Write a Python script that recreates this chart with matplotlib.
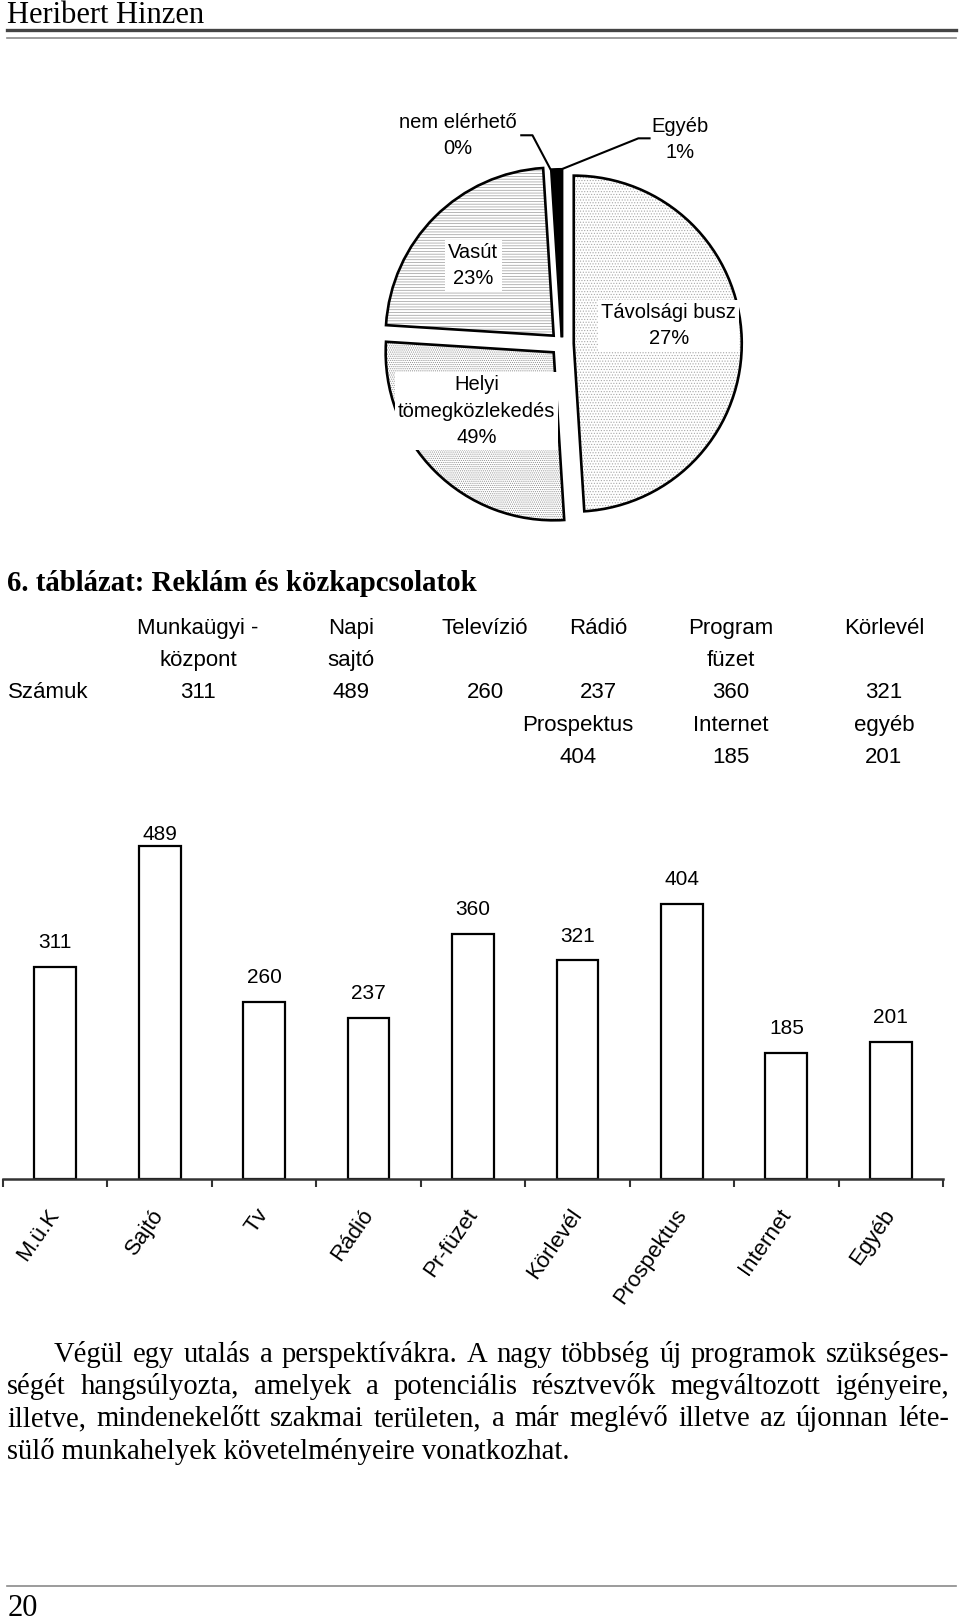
import matplotlib
matplotlib.use("Agg")
import matplotlib.pyplot as plt
import numpy as np

# ---------------- data ----------------
pie_labels = ["Helyi tömegközlekedés", "Távolsági busz", "Vasút", "Egyéb", "nem elérhető"]
pie_values = [49, 27, 23, 1, 0]

bar_categories = ["M.ü.K", "Sajtó", "Tv", "Rádió", "Pr-füzet", "Körlevél", "Prospektus", "Internet", "Egyéb"]
bar_values = [311, 489, 260, 237, 360, 321, 404, 185, 201]

table_head1 = ["Munkaügyi -", "Napi", "Televízió", "Rádió", "Program", "Körlevél"]
table_head2 = ["központ", "sajtó", "", "", "füzet", ""]
table_row1 = ["311", "489", "260", "237", "360", "321"]
table_head3 = ["Prospektus", "Internet", "egyéb"]
table_row2 = ["404", "185", "201"]

header_text = "Heribert Hinzen"
title_text = "6. táblázat: Reklám és közkapcsolatok"
body_lines = [
    "Végül egy utalás a perspektívákra. A nagy többség új programok szükséges-",
    "ségét hangsúlyozta, amelyek a potenciális résztvevők megváltozott igényeire,",
    "illetve, mindenekelőtt szakmai területen, a már meglévő illetve az újonnan léte-",
    "sülő munkahelyek követelményeire vonatkozhat.",
]
page_number = "20"

# ---------------- figure ----------------
W, H = 960, 1621
DPI = 100
fig = plt.figure(figsize=(W / DPI, H / DPI), dpi=DPI)
fig.patch.set_facecolor("white")
renderer = fig.canvas.get_renderer()

SERIF = "Liberation Serif"
SANS = "Liberation Sans"


def fx(x):
    return x / W


def fy(y):
    return 1 - y / H


def px_axes(x0, y0, w, h):
    return fig.add_axes([x0 / W, 1 - (y0 + h) / H, w / W, h / H])


def text_width(s, size, **kw):
    t = fig.text(0, 0, s, fontsize=size, **kw)
    w = t.get_window_extent(renderer).width
    t.remove()
    return w


def fit_size(s, width_px, **kw):
    return 20 * width_px / text_width(s, 20, **kw)


def hline(y, x0, x1, lw, color):
    fig.add_artist(plt.Line2D([fx(x0), fx(x1)], [fy(y), fy(y)], lw=lw, color=color,
                              transform=fig.transFigure))


# ---------------- page header / footer ----------------
hs = fit_size(header_text, 198, family=SERIF)
fig.text(fx(7), fy(23), header_text, fontsize=hs, family=SERIF, va="baseline", ha="left")
hline(29.5, 7, 956, 2.4, "#444444")
hline(37.5, 7, 956, 1.2, "#8a8a8a")
hline(1586, 7, 956, 1.2, "#8a8a8a")
fig.text(fx(8), fy(1616), page_number, fontsize=hs, family=SERIF, va="baseline", ha="left")

# ---------------- pie chart ----------------
cx, cy, R = 562, 344, 165
half = 210
axp = px_axes(cx - half, cy - half, 2 * half, 2 * half)
lim = half / R
axp.set_xlim(-lim, lim)
axp.set_ylim(-lim, lim)
axp.set_aspect("equal")
axp.axis("off")

plt.rcParams["hatch.linewidth"] = 0.5
explode = [0.07, 0.07, 0.07, 0.04, 0.04]
hatches = ["......", "........", "------", "", ""]
hatch_cols = ["#a8a8a8", "#8c8c8c", "#9a9a9a", "black", "white"]
faces = ["white", "white", "white", "black", "white"]
wedges, _ = axp.pie(pie_values, explode=explode, startangle=90, counterclock=False,
                    radius=1, colors=faces, wedgeprops=dict(linewidth=0))
for w_, h_, c_ in zip(wedges, hatches, hatch_cols):
    w_.set_hatch(h_)
    w_.set_edgecolor(c_)
axp.pie(pie_values, explode=explode, startangle=90, counterclock=False, radius=1,
        wedgeprops=dict(fill=False, edgecolor="black", linewidth=1.9))


def pdata(x, y):
    return ((x - cx) / R, (cy - y) / R)


pfs = 14.5
box = dict(boxstyle="square,pad=0.15", facecolor="white", edgecolor="none")
pie_pct = {lab: f"{v}%" for lab, v in zip(pie_labels, pie_values)}
common = dict(fontsize=pfs, family=SANS, ha="center", va="center", multialignment="center",
              linespacing=1.5, zorder=10)
axp.text(*pdata(475, 267), "Vasút\n" + pie_pct["Vasút"], bbox=box, **common)
axp.text(*pdata(667, 326), "Távolsági busz\n" + pie_pct["Távolsági busz"], bbox=box, **common)
axp.text(*pdata(478, 410), "Helyi\ntömegközlekedés\n" + pie_pct["Helyi tömegközlekedés"],
         bbox=box, **common)
axp.text(*pdata(460, 139), "nem elérhető\n" + pie_pct["nem elérhető"], **common)
axp.text(*pdata(678, 143), "Egyéb\n" + pie_pct["Egyéb"], **common)
# leader lines
for pts in ([(522, 139), (533, 139), (551, 173)], [(648, 142), (637, 142), (560, 173)]):
    xs, ys = zip(*[pdata(*p) for p in pts])
    axp.plot(xs, ys, color="black", lw=1.5, zorder=11, clip_on=False)

# ---------------- table ----------------
ts = fit_size(title_text, 468, family=SERIF, weight="bold")
fig.text(fx(7), fy(591), title_text, fontsize=ts, family=SERIF, weight="bold", va="baseline")

tfs = 16
col_x = [198, 351, 485, 598, 731, 884]
row_y = [626, 658, 690, 723, 755]
base = 8


def tcell(x, y, s, ha="center"):
    if s:
        fig.text(fx(x), fy(y + base), s, fontsize=tfs, family=SANS, ha=ha, va="baseline")


for x, a, b, c in zip(col_x, table_head1, table_head2, table_row1):
    tcell(x, row_y[0], a)
    tcell(x, row_y[1], b)
    tcell(x, row_y[2], c)
tcell(8, row_y[2], "Számuk", ha="left")
col_x2 = [578, 731, 884]
for x, a, b in zip(col_x2, table_head3, table_row2):
    tcell(x, row_y[3], a)
    tcell(x, row_y[4], b)

# ---------------- bar chart ----------------
base_y = 1179
ppu = 333 / 489.0
ytop = 530
ax_h = ytop * ppu
axb = px_axes(3, base_y - ax_h, 940, ax_h)
xpos = np.arange(len(bar_values))
axb.bar(xpos, bar_values, width=0.40, facecolor="white", edgecolor="black", linewidth=1.6)
axb.set_xlim(-0.5, len(bar_values) - 0.5)
axb.set_ylim(0, ytop)
for sp in ["top", "right", "left"]:
    axb.spines[sp].set_visible(False)
axb.spines["bottom"].set_linewidth(1.8)
axb.spines["bottom"].set_color("#333333")
axb.set_yticks([])
axb.set_xticks(np.arange(len(bar_values) + 1) - 0.5)
axb.set_xticklabels([])
axb.tick_params(axis="x", which="major", direction="out", length=5.5, width=1.5, color="#333333")
axb.set_xticks(xpos, minor=True)
axb.set_xticklabels(bar_categories, minor=True, rotation=55, ha="right", va="center",
                    rotation_mode="anchor", fontsize=16, family=SANS)
axb.tick_params(axis="x", which="minor", length=0, pad=23)
vmax = max(bar_values)
for x, v in zip(xpos, bar_values):
    off = 8 if v == vmax else 17.5
    axb.annotate(str(v), (x, v), xytext=(0, off), textcoords="offset points",
                 ha="center", va="center", fontsize=15, family=SANS, annotation_clip=False)

# ---------------- body text (justified) ----------------
bs = min(
    fit_size(body_lines[0], 949 - 54, family=SERIF),
    fit_size(body_lines[1], 949 - 7, family=SERIF),
    fit_size(body_lines[2], 949 - 7, family=SERIF) * 0.985,
    fit_size(body_lines[3], 568 - 7, family=SERIF),
)
line_y = [1362, 1394, 1426, 1459]
starts = [54, 7, 7, 7]
for i, (ln, y, x0) in enumerate(zip(body_lines, line_y, starts)):
    if i == len(body_lines) - 1:
        fig.text(fx(x0), fy(y), ln, fontsize=bs, family=SERIF, va="baseline")
        continue
    words = ln.split(" ")
    widths = [text_width(wd, bs, family=SERIF) for wd in words]
    gap = (949 - x0 - sum(widths)) / (len(words) - 1)
    x = x0
    for wd, wdw in zip(words, widths):
        fig.text(fx(x), fy(y), wd, fontsize=bs, family=SERIF, va="baseline")
        x += wdw + gap

fig.savefig("out.png", dpi=DPI, facecolor="white")
